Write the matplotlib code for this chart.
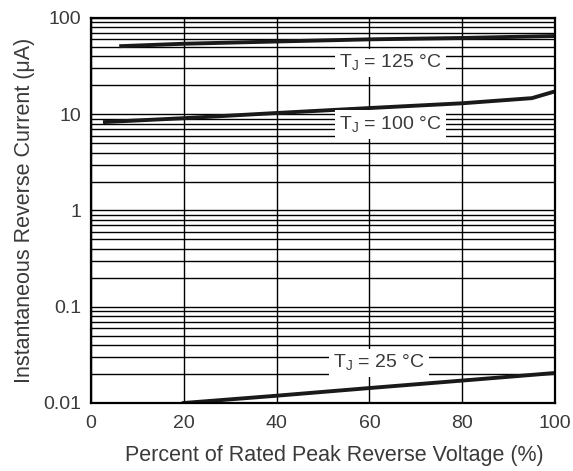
import matplotlib.pyplot as plt
from matplotlib.ticker import LogLocator, FixedLocator, NullFormatter

plt.rcParams['font.family'] = ['Liberation Sans', 'DejaVu Sans']

# curves (percent of rated voltage, current in uA)
x125 = [6.5, 20, 40, 60, 80, 100]
i125 = [51, 54, 57, 60, 62, 65]
x100 = [3, 20, 40, 60, 80, 95, 100]
i100 = [8.3, 9.1, 10.3, 11.6, 13.0, 14.7, 17.3]
x25 = [20, 40, 60, 80, 100]
i25 = [0.0100, 0.0119, 0.0143, 0.0171, 0.0205]

labels = ["T$_\\mathregular{J}$ = 125 °C", "T$_\\mathregular{J}$ = 100 °C", "T$_\\mathregular{J}$ = 25 °C"]
label_pos = [(64.5, 34), (64.5, 7.8), (62, 0.026)]

fig = plt.figure(figsize=(5.73, 4.71), dpi=100)
ax = fig.add_axes([0.1588, 0.1444, 0.81, 0.8174])
ax.set_yscale('log')
ax.set_xlim(0, 100); ax.set_ylim(0.01, 100)

ax.xaxis.set_major_locator(FixedLocator([0, 20, 40, 60, 80, 100]))
ax.yaxis.set_minor_locator(LogLocator(base=10, subs=range(2, 10), numticks=20))
ax.yaxis.set_minor_formatter(NullFormatter())
ax.set_yticks([0.01, 0.1, 1, 10, 100], ["0.01", "0.1", "1", "10", "100"])

ax.grid(True, which='both', axis='y', color='black', lw=1.0)
ax.grid(True, which='major', axis='x', color='black', lw=1.0)
ax.tick_params(which='both', length=0, labelsize=14, colors='#3a3a3a')
ax.tick_params(axis='x', pad=9)
ax.tick_params(axis='y', pad=7)
for s in ax.spines.values():
    s.set_linewidth(1.6)

ax.plot(x125, i125, color='#1a1a1a', lw=2.8)
ax.plot(x100, i100, color='#1a1a1a', lw=2.8)
ax.plot(x25, i25, color='#1a1a1a', lw=2.8)

for t, (px, py) in zip(labels, label_pos):
    ax.text(px, py, t, ha='center', va='center', fontsize=14, color='#3a3a3a',
            bbox=dict(facecolor='white', edgecolor='none', pad=3))

ax.set_xlabel("Percent of Rated Peak Reverse Voltage (%)", fontsize=15.5, color='#3a3a3a')
ax.xaxis.set_label_coords(0.525, -0.108)
ax.set_ylabel("Instantaneous Reverse Current (μA)", fontsize=15.5, color='#3a3a3a', labelpad=6)

fig.savefig("out.png", dpi=100)
